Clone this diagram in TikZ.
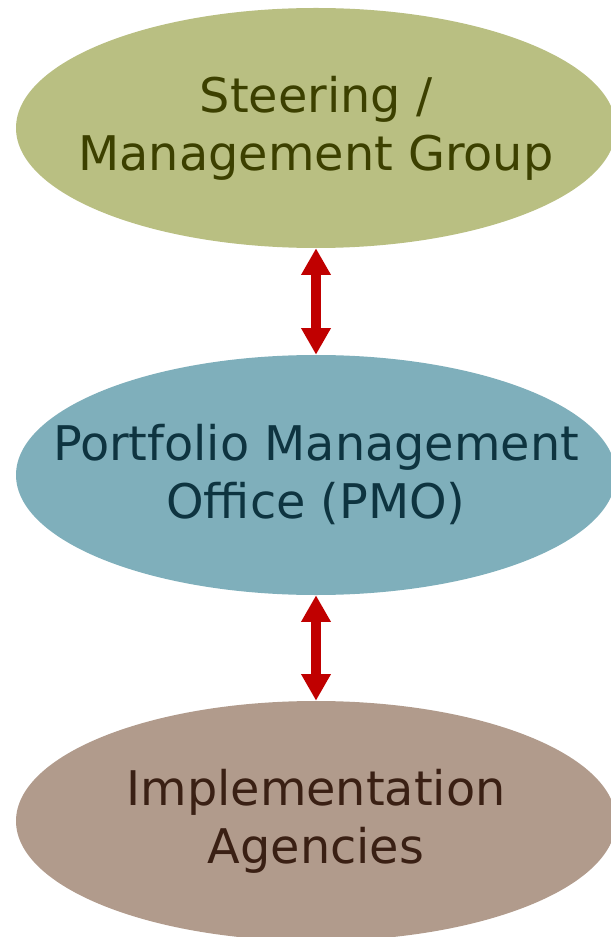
\documentclass[tikz,border=0pt]{standalone}
\usepackage{fontspec}
\setmainfont{DejaVu Sans}
\usetikzlibrary{arrows.meta,shapes.geometric}

\definecolor{steerfill}{HTML}{B9BF82}
\definecolor{steertext}{HTML}{3C4000}
\definecolor{pmofill}{HTML}{7FAFBB}
\definecolor{pmotext}{HTML}{0E3440}
\definecolor{agencyfill}{HTML}{B19B8C}
\definecolor{agencytext}{HTML}{3A2014}
\definecolor{linkred}{HTML}{C00000}

\begin{document}
\begin{tikzpicture}[
    x=0.75pt, y=-0.75pt,
    group/.style={ellipse, inner xsep=-110pt, inner ysep=0pt, minimum width=450pt, minimum height=180pt, align=center, font=\fontsize{35.8}{43.5}\selectfont},
    link/.style={{Triangle[width=21pt,length=20pt]}-{Triangle[width=21pt,length=20pt]}, line width=7.5pt, linkred}
]
\useasboundingbox (0,0) rectangle (610,937);
\node[group, fill=steerfill, text=steertext] (steer) at (316,128) {Steering /\\Management Group};
\node[group, fill=pmofill, text=pmotext] (pmo) at (316,475) {Portfolio Management\\Office (PMO)};
\node[group, fill=agencyfill, text=agencytext] (agency) at (316,821) {Implementation\\Agencies};
\draw[link] (steer) -- (pmo);
\draw[link] (pmo) -- (agency);
\end{tikzpicture}
\end{document}
